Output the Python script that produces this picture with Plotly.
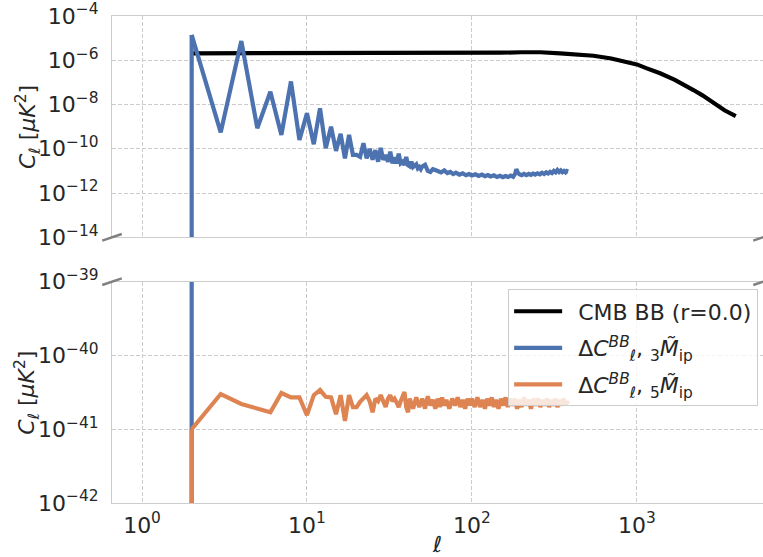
import plotly.graph_objects as go

# ---------------- data ----------------
# CMB lensing BB spectrum, r = 0
ell_cmb = [2, 10, 30, 60, 100, 150, 200, 260, 343, 420, 546, 700, 869, 1000,
           1150, 1384, 1700, 2000, 2204, 2500, 2911, 3400, 3981]
cl_cmb = [2.05e-6, 2.05e-6, 2.05e-6, 2.05e-6, 2.1e-6, 2.2e-6, 2.3e-6, 2.3e-6,
          2.06e-6, 1.85e-6, 1.6e-6, 1.2e-6, 8.6e-7, 6.5e-7, 4.3e-7, 2.58e-7,
          1.3e-7, 7.0e-8, 4.5e-8, 2.6e-8, 1.13e-8, 5.5e-9, 3.0e-9]

# Delta C_ell^BB, 3 M_ip  (ell = 1 is zero)
ell_m3 = [1, 2, 3, 4, 5, 6, 7, 8, 9, 10, 11, 12, 13, 14, 15, 16, 17, 18, 19, 20,
          21, 22, 23, 24, 25, 26, 27, 28, 29, 30, 31, 32, 33, 34, 35, 36, 37, 38,
          39, 40, 41, 42, 43, 44, 45, 46, 47, 48, 49, 50, 52, 54, 56, 58, 60,
          62, 65, 68, 71, 74, 77, 80, 84, 88, 92, 96, 100, 105, 110, 115, 120,
          125, 130, 136, 142, 148, 154, 160, 166, 172, 178, 183, 186, 189, 194,
          200, 207, 214, 221, 228, 235, 242, 250, 258, 266, 274, 282, 290, 298,
          306, 314, 322, 330, 338, 346, 354, 362, 370, 377, 383]
cl_m3 = [0.0, 1.4e-5, 5.5e-10, 7.4e-6, 8.5e-10, 3.8e-8, 4.2e-10, 1.1e-7,
         2.5e-10, 4.0e-9, 1.6e-10, 6.7e-9, 1.05e-10, 1.0e-9, 8.0e-11, 4.7e-10,
         3.7e-11, 4.2e-10, 5.3e-11, 5.3e-11, 4.3e-11, 1.8e-10, 3.7e-11, 1.0e-10,
         3.2e-11, 8.7e-11, 2.6e-11, 1.1e-10, 3.2e-11, 5.3e-11, 2.6e-11, 7.4e-11,
         2.2e-11, 4.0e-11, 2.2e-11, 6.0e-11, 2.2e-11, 2.6e-11, 1.85e-11, 4.3e-11,
         1.8e-11, 1.6e-11, 2.6e-11, 1.5e-11, 1.7e-11, 2.0e-11, 1.3e-11, 1.5e-11,
         1.2e-11, 1.6e-11, 1.9e-11, 1.0e-11, 9.0e-12, 1.2e-11, 1.1e-11,
         1.0e-11, 8.5e-12, 1.05e-11, 8.0e-12, 9.0e-12, 7.2e-12, 8.4e-12, 6.8e-12,
         7.8e-12, 6.4e-12, 7.2e-12, 6.2e-12, 7.0e-12, 5.9e-12, 6.8e-12, 5.8e-12,
         6.5e-12, 5.6e-12, 6.3e-12, 5.3e-12, 6.0e-12, 5.2e-12, 5.9e-12, 5.3e-12,
         6.1e-12, 5.4e-12, 7.5e-12, 1.2e-11, 9.0e-12, 7.0e-12, 6.4e-12, 7.4e-12,
         6.5e-12, 7.3e-12, 6.6e-12, 7.6e-12, 6.8e-12, 7.8e-12, 7.0e-12, 8.2e-12,
         7.2e-12, 8.6e-12, 7.6e-12, 9.0e-12, 8.0e-12, 1.0e-11, 8.6e-12, 1.1e-11,
         9.0e-12, 1.05e-11, 8.8e-12, 1.0e-11, 8.6e-12, 9.8e-12, 9.2e-12]

# Delta C_ell^BB, 5 M_ip  (ell = 1 is zero)
ell_m5 = [1, 2, 3, 4, 5, 6, 7, 8, 9, 10, 11, 12, 13, 14, 15, 16, 17, 18, 19, 20,
          21, 22, 23, 24, 25, 26, 27, 28, 29, 30, 31, 32, 33, 34, 35, 36, 37, 38,
          39, 40, 41, 42, 44, 46, 48, 50, 52, 54, 56, 58, 60, 62, 64, 66, 68, 70,
          73, 76, 79, 82, 85, 88, 91, 94, 97, 100, 104, 108, 112, 116, 120, 124,
          128, 132, 136, 140, 145, 150, 155, 160, 165, 170, 176, 182, 188, 194,
          200, 207, 214, 221, 228, 236, 244, 252, 260, 268, 276, 285, 294, 303,
          312, 321, 330, 340, 350, 360, 370, 377, 383]
cl_m5 = [0.0, 1.0e-41, 3.0e-41, 2.2e-41, 1.9e-41, 1.7e-41, 3.1e-41, 2.7e-41,
         2.7e-41, 1.55e-41, 2.9e-41, 3.4e-41, 2.75e-41, 2.7e-41, 1.6e-41, 2.9e-41,
         1.3e-41, 2.9e-41, 2.0e-41, 2.0e-41, 2.35e-41, 2.6e-41, 2.9e-41, 2.4e-41,
         1.7e-41, 2.6e-41, 2.4e-41, 2.9e-41, 2.3e-41, 2.0e-41, 2.6e-41, 2.9e-41,
         2.4e-41, 2.6e-41, 2.3e-41, 2.0e-41, 2.4e-41, 2.7e-41, 3.2e-41, 2.0e-41,
         1.7e-41, 2.6e-41, 1.9e-41, 2.7e-41, 2.0e-41, 2.6e-41, 1.9e-41, 2.8e-41,
         2.1e-41, 2.5e-41, 1.9e-41, 2.6e-41, 2.0e-41, 2.7e-41, 2.1e-41, 2.5e-41,
         1.9e-41, 2.6e-41, 2.1e-41, 2.7e-41, 2.0e-41, 2.5e-41, 1.9e-41, 2.6e-41,
         2.1e-41, 2.6e-41, 2.0e-41, 2.7e-41, 2.0e-41, 2.5e-41, 1.9e-41, 2.6e-41,
         2.1e-41, 2.7e-41, 2.0e-41, 2.5e-41, 1.9e-41, 2.6e-41, 2.1e-41, 2.7e-41,
         2.0e-41, 2.6e-41, 2.1e-41, 2.6e-41, 1.9e-41, 2.5e-41, 2.0e-41, 2.7e-41,
         2.1e-41, 2.5e-41, 1.9e-41, 2.6e-41, 2.1e-41, 2.6e-41, 2.0e-41, 2.5e-41,
         2.1e-41, 2.6e-41, 2.0e-41, 2.5e-41, 2.1e-41, 2.6e-41, 2.0e-41, 2.5e-41,
         2.1e-41, 2.6e-41, 2.1e-41, 2.4e-41, 2.2e-41]

x_tickvals = [1, 10, 100, 1000]
x_ticktext = ["10<sup>0</sup>", "10<sup>1</sup>", "10<sup>2</sup>", "10<sup>3</sup>"]
top_tickvals = [1e-14, 1e-12, 1e-10, 1e-8, 1e-6, 1e-4]
top_ticktext = ["10<sup>\u221214</sup>", "10<sup>\u221212</sup>", "10<sup>\u221210</sup>",
                "10<sup>\u22128</sup>", "10<sup>\u22126</sup>", "10<sup>\u22124</sup>"]
bot_tickvals = [1e-42, 1e-41, 1e-40, 1e-39]
bot_ticktext = ["10<sup>\u221242</sup>", "10<sup>\u221241</sup>", "10<sup>\u221240</sup>",
                "10<sup>\u221239</sup>"]

name_cmb = "\u2002CMB BB (r=0.0)"
name_m3 = "\u2002\u0394<i>C</i><sup><i>BB</i></sup><sub><i>\u2113</i></sub>, <sub>3</sub><i>M\u0303</i><sub>ip</sub>"
name_m5 = "\u2002\u0394<i>C</i><sup><i>BB</i></sup><sub><i>\u2113</i></sub>, <sub>5</sub><i>M\u0303</i><sub>ip</sub>"
ytitle = "<i>C</i><sub><i>\u2113</i></sub> [<i>\u03bcK</i><sup>2</sup>]"
xtitle = "<i>\u2113</i>"

# ---------------- styling ----------------
BLUE = "#4C72B0"
ORANGE = "#DD8452"
TXT = "#262626"
GRID = "#cccccc"
FONT = "DejaVu Sans"
LW = 4.2
FS = 22
CLIP = 1e-300   # zero values are clipped far below the axis (like a log plot does)


def split_zero(ell, cl):
    """Zero-valued leading sample -> clipped drop segment + the positive part."""
    drop_x = [ell[0], ell[1]]
    drop_y = [cl[0] if cl[0] > 0 else CLIP, cl[1]]
    return (drop_x, drop_y), (ell[1:], cl[1:])


(m3_dx, m3_dy), (m3_x, m3_y) = split_zero(ell_m3, cl_m3)
(m5_dx, m5_dy), (m5_x, m5_y) = split_zero(ell_m5, cl_m5)

fig = go.Figure()
fig.add_trace(go.Scatter(x=ell_cmb, y=cl_cmb, mode="lines", name=name_cmb, legendgroup="a",
                         line=dict(color="black", width=LW), xaxis="x", yaxis="y"))
# blue, top panel
fig.add_trace(go.Scatter(x=m3_dx, y=m3_dy, mode="lines", showlegend=False,
                         line=dict(color=BLUE, width=LW, shape="hv"), xaxis="x", yaxis="y"))
fig.add_trace(go.Scatter(x=m3_x, y=m3_y, mode="lines", name=name_m3, legendgroup="b",
                         line=dict(color=BLUE, width=LW), xaxis="x", yaxis="y"))
# blue, bottom panel
fig.add_trace(go.Scatter(x=m3_dx, y=m3_dy, mode="lines", showlegend=False,
                         line=dict(color=BLUE, width=LW, shape="hv"), xaxis="x2", yaxis="y2"))
fig.add_trace(go.Scatter(x=m3_x, y=m3_y, mode="lines", showlegend=False,
                         line=dict(color=BLUE, width=LW), xaxis="x2", yaxis="y2"))
# orange, bottom panel
fig.add_trace(go.Scatter(x=m5_dx, y=m5_dy, mode="lines", showlegend=False,
                         line=dict(color=ORANGE, width=LW, shape="hv"), xaxis="x2", yaxis="y2"))
fig.add_trace(go.Scatter(x=m5_x, y=m5_y, mode="lines", name=name_m5, legendgroup="c",
                         line=dict(color=ORANGE, width=LW), xaxis="x2", yaxis="y2"))

axis_common = dict(showgrid=True, gridcolor=GRID, gridwidth=1, griddash="4px,2px",
                   showline=True, linecolor=GRID, linewidth=1.2, mirror=True,
                   zeroline=False, ticks="",
                   tickfont=dict(family=FONT, size=FS, color=TXT))

XR = [-0.182, 3.765]
TOP_LO = 0.5456
BOT_HI = 0.4544

fig.update_layout(
    width=763, height=557,
    margin=dict(l=112, r=0, t=16, b=54),
    paper_bgcolor="white", plot_bgcolor="white",
    font=dict(family=FONT, color=TXT),
    xaxis=dict(type="log", range=XR, domain=[0, 1], anchor="y",
               tickvals=x_tickvals, showticklabels=False, **axis_common),
    yaxis=dict(type="log", range=[-14, -4], domain=[TOP_LO, 1], anchor="x",
               tickvals=top_tickvals, ticktext=top_ticktext, ticklabelstandoff=8,
               **axis_common),
    xaxis2=dict(type="log", range=XR, domain=[0, 1], anchor="y2", matches="x",
                tickvals=x_tickvals, ticktext=x_ticktext, ticklabelstandoff=2,
                title=dict(text=xtitle, font=dict(family=FONT, size=FS, color=TXT),
                           standoff=0),
                **axis_common),
    yaxis2=dict(type="log", range=[-42, -39], domain=[0, BOT_HI], anchor="x2",
                tickvals=bot_tickvals, ticktext=bot_ticktext, ticklabelstandoff=8,
                **axis_common),
    legend=dict(x=0.6085, y=0.4385, xanchor="left", yanchor="top",
                traceorder="grouped", tracegroupgap=5,
                bgcolor="rgba(255,255,255,0.8)", bordercolor=GRID, borderwidth=1,
                itemwidth=48,
                font=dict(family=FONT, size=FS, color=TXT)),
    showlegend=True,
)

# y-axis titles (one per panel)
for yc in ((TOP_LO + 1) / 2, BOT_HI / 2):
    fig.add_annotation(text=ytitle, xref="paper", yref="paper", x=-0.130, y=yc,
                       xanchor="center", yanchor="middle", textangle=-90,
                       showarrow=False, font=dict(family=FONT, size=FS, color=TXT))

# broken-axis diagonal marks
d = 0.015
dy_top = d * (1 - TOP_LO)
dy_bot = d * BOT_HI
for x0 in (0.0, 1.0):
    fig.add_shape(type="line", xref="paper", yref="paper",
                  x0=x0 - d, x1=x0 + d, y0=TOP_LO - dy_top, y1=TOP_LO + dy_top,
                  line=dict(color="#808080", width=2.5))
    fig.add_shape(type="line", xref="paper", yref="paper",
                  x0=x0 - d, x1=x0 + d, y0=BOT_HI - dy_bot, y1=BOT_HI + dy_bot,
                  line=dict(color="#808080", width=2.5))

fig.write_html("out.html", config={"displayModeBar": False},
               post_script="document.body.style.margin='0';document.body.style.overflow='hidden';")
